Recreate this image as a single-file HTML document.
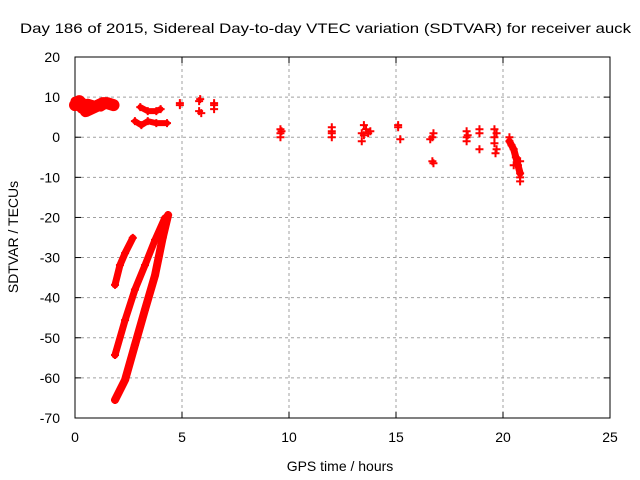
<!DOCTYPE html>
<html><head><meta charset="utf-8"><style>
html,body{margin:0;padding:0;background:#fff;width:640px;height:480px;overflow:hidden}
text{font-family:"Liberation Sans",sans-serif;font-size:14px;fill:#000}
</style></head><body>
<svg id="chart" width="640" height="480" viewBox="0 0 640 480"></svg>
<script>
const xTicks=[0,5,10,15,20,25];
const yTicks=[20,10,0,-10,-20,-30,-40,-50,-60,-70];
const trailLower=[[1.87,-65.5],[2.34,-60.5],[2.8,-51.8],[3.27,-43],[3.74,-34.4],[4.1,-25],[4.35,-19.4]];
const trailMiddle=[[1.87,-54.3],[2.34,-45.6],[2.8,-38],[3.27,-31.9],[3.74,-25.6],[4.2,-20.1]];
const trailUpper=[[1.87,-36.8],[2.1,-31.9],[2.34,-28.9],[2.7,-25.1]];
const trailTop=[[0,8],[0.2,9],[0.4,8],[0.5,6.5],[0.7,7],[0.9,7.5],[1.1,8],[1.3,8.5],[1.5,8.5],[1.8,8]];
const trailTop2=[[0,9],[0.3,7],[0.6,8.5],[0.9,8],[1.2,7.5],[1.5,8.5]];
const trailMidA=[[2.8,4],[3.1,3],[3.4,4],[3.8,3.5],[4.3,3.5]];
const trailMidB=[[3.05,7.5],[3.4,6.5],[3.8,6.5],[4.0,7]];
const trailLate=[[20.3,-1],[20.5,-3],[20.6,-5],[20.7,-7],[20.8,-9]];
const scatter=[[4.9,8],[4.9,8.5],[5.8,9],[5.85,9.5],[5.8,6.5],[5.9,6],[6.5,8],[6.5,7],[6.5,8.5],
[9.6,0],[9.6,1],[9.6,2],[9.65,1.5],[12,0],[12,1],[12,2.5],[12,1.5],
[13.4,-1],[13.4,1],[13.5,3],[13.6,2],[13.7,1],[13.8,1.5],[13.5,0.5],
[15.1,3],[15.1,2.5],[15.2,-0.5],[16.7,0],[16.75,1],[16.6,-0.5],[16.7,-6],[16.75,-6.5],
[18.3,0],[18.3,1.5],[18.35,0.5],[18.3,-1],[18.9,2],[18.9,1],[18.9,-3],[19.6,2],[19.6,0],[19.7,1],[19.6,-1.5],[19.7,-3],[19.65,-4],
[20.3,0],[20.4,-2],[20.8,-6],[20.8,-10],[20.8,-11],[20.5,-7]];
const X=h=>75+h*21.4;
const Y=v=>57+(20-v)*4.011;
const svg=document.getElementById('chart');
const NS='http://www.w3.org/2000/svg';
function mk(t,a,p){const e=document.createElementNS(NS,t);for(const k in a)e.setAttribute(k,a[k]);(p||svg).appendChild(e);return e;}
yTicks.forEach(v=>{
 if(v!==20&&v!==-70){const g=mk('line',{x1:75,x2:610,y1:Y(v),y2:Y(v),stroke:'#a0a0a0','stroke-dasharray':'3,3'});
 }
 const t=mk('text',{x:60,y:Y(v)+5,'text-anchor':'end'});t.textContent=v;
 
 mk('line',{x1:75,x2:81,y1:Y(v),y2:Y(v),stroke:'#000'});mk('line',{x1:604,x2:610,y1:Y(v),y2:Y(v),stroke:'#000'});
});
xTicks.forEach(h=>{
 if(h!==0&&h!==25){const g=mk('line',{x1:X(h),x2:X(h),y1:57,y2:418,stroke:'#a0a0a0','stroke-dasharray':'3,3'});
 }
 const t=mk('text',{x:X(h),y:442,'text-anchor':'middle'});t.textContent=h;
 
 mk('line',{x1:X(h),x2:X(h),y1:418,y2:412,stroke:'#000'});mk('line',{x1:X(h),x2:X(h),y1:57,y2:63,stroke:'#000'});
});
const fr=mk('rect',{x:75,y:57,width:535,height:361,fill:'none',stroke:'#000'});

function plus(h,v){const g=mk('path',{d:`M${X(h)-4},${Y(v)}h8M${X(h)},${Y(v)-4}v8`,stroke:'#f00','stroke-width':2});
 }
[[trailLower,8],[trailMiddle,7],[trailUpper,7],[trailTop,12],[trailTop2,9],[trailMidA,6],[trailMidB,6],[trailLate,7]].forEach(([tr,w])=>{
 const p=mk('polyline',{points:tr.map(d=>X(d[0])+','+Y(d[1])).join(' '),fill:'none',stroke:'#f00','stroke-width':w,'stroke-linecap':'round','stroke-linejoin':'round'});
 
 tr.forEach(d=>plus(d[0],d[1]));
});
scatter.forEach(d=>plus(d[0],d[1]));
const ti=mk('text',{x:20,y:33,textLength:611,lengthAdjust:'spacingAndGlyphs'});ti.textContent='Day 186 of 2015, Sidereal Day-to-day VTEC variation (SDTVAR) for receiver auck';

const xl=mk('text',{x:340,y:471,'text-anchor':'middle'});xl.textContent='GPS time / hours';

const yl=mk('text',{x:0,y:0,'text-anchor':'middle',transform:'translate(18,237) rotate(-90)'});yl.textContent='SDTVAR / TECUs';

</script>
</body></html>
